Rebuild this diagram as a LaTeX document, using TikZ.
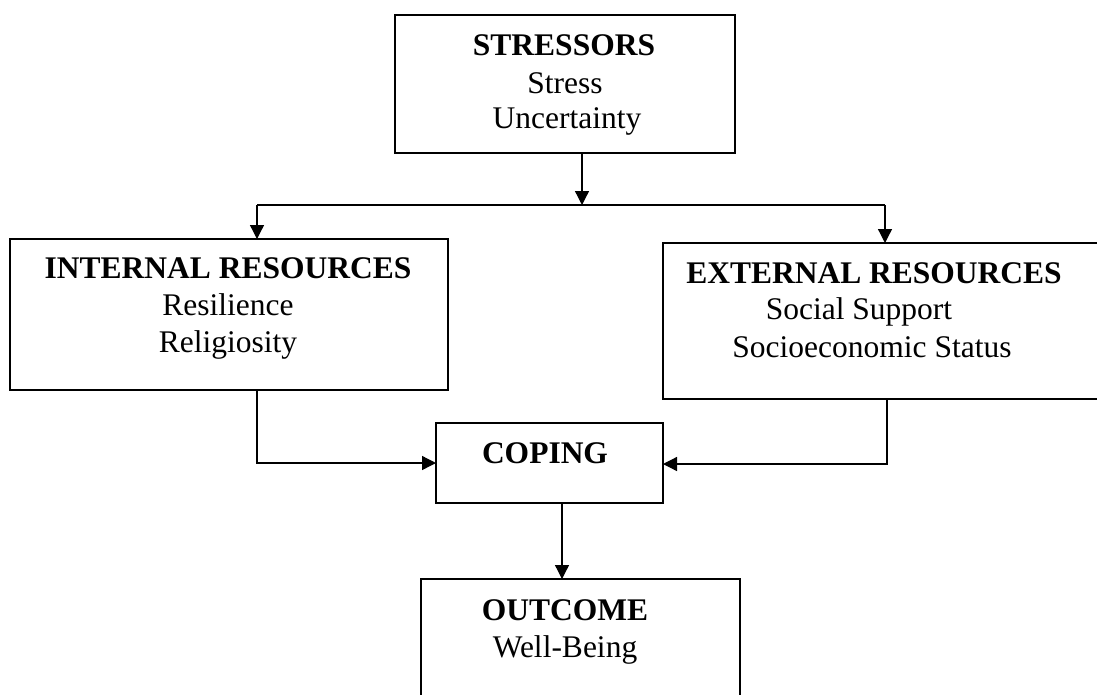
\documentclass[tikz,border=0pt]{standalone}
\usepackage{fontspec}
\setmainfont{Liberation Serif}
\usetikzlibrary{arrows.meta}
\begin{document}
\begin{tikzpicture}[x=1pt,y=-1pt,
  box/.style={draw=black,line width=1.5pt,rectangle,inner sep=0pt,outer sep=0pt,anchor=north west},
  txt/.style={anchor=base,inner sep=0pt,font=\fontsize{31.5}{36}\selectfont},
  btxt/.style={txt,font=\fontsize{31.5}{36}\selectfont\bfseries},
  conn/.style={line width=1.3pt,-{Triangle[length=14pt,width=14pt]}},
  plain/.style={line width=1.3pt}]
\clip (0,0) rectangle (1097,694);
\fill[white] (0,0) rectangle (1097,694);
% boxes
\node[box,minimum width=340pt,minimum height=138pt] (stress) at (395,15) {};
\node[box,minimum width=438pt,minimum height=151pt] (internal) at (10,239) {};
\node[box,minimum width=450pt,minimum height=156pt] (external) at (663,243) {};
\node[box,minimum width=227pt,minimum height=80pt] (coping) at (436,423) {};
\node[box,minimum width=319pt,minimum height=140pt] (outcome) at (421,579) {};
% texts
\node[btxt] (t1) at (564,55) {STRESSORS};
\node[txt] (t2) at (565,93) {Stress};
\node[txt] (t3) at (567,128) {Uncertainty};
\node[btxt] (t4) at (228,278) {INTERNAL RESOURCES};
\node[txt] (t5) at (228,315) {Resilience};
\node[txt] (t6) at (228,352) {Religiosity};
\node[btxt] (t7) at (874,283) {EXTERNAL RESOURCES};
\node[txt] (t8) at (859,319) {Social Support};
\node[txt] (t9) at (872,357) {Socioeconomic Status};
\node[btxt] (t10) at (545,463) {COPING};
\node[btxt] (t11) at (565,620) {OUTCOME};
\node[txt] (t12) at (565,657) {Well-Being};
% connector points
\coordinate (s0) at (582,153);
\coordinate (sj) at (582,205);
\coordinate (jl) at (257,205);
\coordinate (jr) at (885,205);
\coordinate (il) at (257,239);
\coordinate (er) at (885,243);
\coordinate (i0) at (257,390);
\coordinate (i1) at (257,463);
\coordinate (ci) at (436,463);
\coordinate (e0) at (887,399);
\coordinate (e1) at (887,464);
\coordinate (ce) at (663,464);
\coordinate (c0) at (562,503);
\coordinate (o0) at (562,579);
% connectors
\draw[conn] (s0) -- (sj);
\draw[plain] (jl) -- (jr);
\draw[conn] (jl) -- (il);
\draw[conn] (jr) -- (er);
\draw[conn] (i0) -- (i1) -- (ci);
\draw[conn] (e0) -- (e1) -- (ce);
\draw[conn] (c0) -- (o0);
\end{tikzpicture}
\end{document}
